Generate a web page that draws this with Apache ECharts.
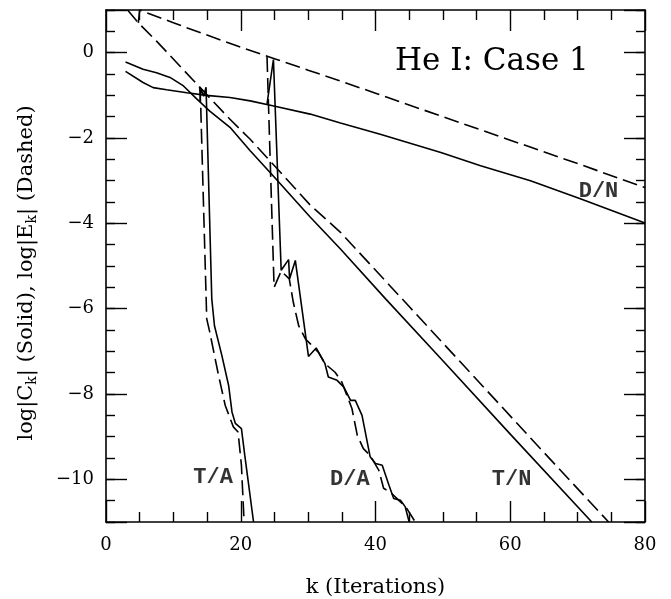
<!DOCTYPE html>
<html><head><meta charset="utf-8">
<script src="https://cdn.jsdelivr.net/npm/echarts@6/dist/echarts.min.js"></script>
<style>html,body{margin:0;padding:0;background:#fff}#c{width:671px;height:599px}</style>
</head><body><div id="c"></div>
<script>
// ---- data (k, log value) ----
const dnSolid = [[2.9,-0.44],[5.5,-0.70],[7,-0.82],[9,-0.87],[12,-0.94],[14.9,-1.00],[18.4,-1.05],[21.4,-1.13],[24.9,-1.25],[30.3,-1.44],[34.8,-1.65],[40.7,-1.91],[49.7,-2.34],[55.6,-2.65],[63,-3.00],[70.5,-3.43],[80,-3.99]];
const dnDashed = [[4.8,0.70],[5.0,1.0],[10,0.70],[15.9,0.36],[20,0.13],[25,-0.14],[30,-0.41],[34.7,-0.66],[40,-0.95],[49.6,-1.48],[60,-2.05],[70,-2.60],[80,-3.16]];
const tnSolid = [[2.9,-0.22],[5.5,-0.39],[7.5,-0.47],[9.5,-0.58],[11.5,-0.78],[13.5,-1.09],[15.4,-1.37],[18.4,-1.75],[21.4,-2.30],[25,-2.92],[30.3,-3.85],[34.8,-4.60],[41.5,-5.77],[50,-7.22],[60,-8.94],[72.1,-11.0]];
const tnDashed = [[3.2,1.0],[4.8,0.70],[7.5,0.27],[13.5,-0.74],[18.4,-1.56],[21.4,-2.03],[25,-2.65],[30.3,-3.57],[34.8,-4.21],[45,-5.95],[55,-7.66],[65,-9.37],[74.6,-11.0]];
const taSolid = [[13.95,-1.15],[14.1,-0.85],[14.5,-1.02],[14.85,-0.81],[15.7,-5.77],[16.1,-6.40],[17.2,-7.10],[18.2,-7.80],[18.7,-8.42],[19.2,-8.69],[20.1,-8.81],[20.6,-9.44],[21.9,-11.0]];
const taDashed = [[13.9,-0.80],[14.05,-1.21],[14.95,-6.24],[15.4,-6.55],[16.7,-7.56],[17.7,-8.27],[18.9,-8.77],[19.6,-8.89],[20.1,-9.67],[20.5,-11.0]];
const daSolid = [[23.9,-1.20],[24.85,-0.16],[26.0,-5.10],[27.1,-4.85],[27.25,-5.30],[28.1,-4.87],[30.05,-7.12],[31.2,-6.92],[32.5,-7.29],[33.0,-7.60],[34.3,-7.68],[35.3,-7.84],[36.3,-8.15],[37.0,-8.15],[38.0,-8.50],[39.2,-9.47],[40.0,-9.63],[41.0,-9.67],[42.0,-10.14],[42.7,-10.45],[43.7,-10.49],[44.4,-10.64],[45.0,-11.0]];
const daDashed = [[23.9,-0.10],[24.95,-5.50],[26.0,-5.12],[27.2,-5.30],[27.8,-5.85],[28.6,-6.40],[29.6,-6.71],[30.3,-6.82],[31.5,-7.02],[32.5,-7.29],[34.0,-7.49],[35.0,-7.72],[36.5,-8.34],[37.3,-8.97],[38.2,-9.28],[39.2,-9.44],[40.5,-9.79],[41.2,-10.21],[42.2,-10.30],[43.7,-10.53],[44.4,-10.62],[45.9,-11.0]];

const curveLabels = ['T/A','D/A','T/N','D/N'];
const labelK = [15.9, 36.2, 60.2, 73.1];
const labelV = [-9.95, -10.0, -10.0, -3.26];

const xTickValues = [0,20,40,60,80];
const xTickLabels = ['0','20','40','60','80'];
const yTickValues = [-10,-8,-6,-4,-2,0];
const yTickLabels = ['\u221210','\u22128','\u22126','\u22124','\u22122','0'];

const titleText = 'He I: Case 1';
const xName = 'k (Iterations)';
const yName = 'log|C{s|k}| (Solid), log|E{s|k}| (Dashed)';

// ---- chart ----
const serif = 'DejaVu Serif';
const black = '#000';
const lw = 1.6;
const dash = [15, 6];

function xAxisDef(pos, labels) {
  return {
    type: 'value', position: pos, min: 0, max: 80, interval: 20,
    axisLine: { show: true, onZero: false, lineStyle: { color: black, width: 1.6 } },
    axisTick: { show: true, inside: true, length: 21, lineStyle: { color: black, width: 1.4 } },
    minorTick: { show: true, splitNumber: 4, length: 10, lineStyle: { color: black, width: 1.4 } },
    splitLine: { show: false }, minorSplitLine: { show: false },
    axisLabel: labels ? {
      show: true, margin: 14, color: black, fontFamily: serif, fontSize: 18,
      formatter: v => { const i = xTickValues.indexOf(v); return i >= 0 ? xTickLabels[i] : ''; }
    } : { show: false },
    name: labels ? xName : '', nameLocation: 'middle', nameGap: 55,
    nameTextStyle: { color: black, fontFamily: serif, fontSize: 21 }
  };
}
function yMajor(pos, labels) {
  return {
    type: 'value', position: pos, min: -11, max: 1, splitNumber: 6,
    axisLine: { show: true, onZero: false, lineStyle: { color: black, width: 1.6 } },
    axisTick: { show: true, inside: true, length: 21, lineStyle: { color: black, width: 1.4 } },
    splitLine: { show: false },
    axisLabel: labels ? {
      show: true, margin: 12, color: black, fontFamily: serif, fontSize: 18,
      showMinLabel: true, showMaxLabel: true,
      formatter: v => { const i = yTickValues.indexOf(Math.round(v * 100) / 100); return i >= 0 ? yTickLabels[i] : ''; }
    } : { show: false },
    name: labels ? yName : '', nameLocation: 'middle', nameRotate: 90, nameGap: 67,
    nameTextStyle: { color: black, fontFamily: serif, fontSize: 21, padding: [0, 14, 0, 0],
      rich: { s: { fontFamily: serif, fontSize: 14, color: black, verticalAlign: 'bottom', padding: [10, 0, 0, 0] } } }
  };
}
function yMinor(pos) {
  return {
    type: 'value', position: pos, min: -11, max: 1, interval: 0.5,
    axisLine: { show: false, onZero: false },
    axisTick: { show: true, inside: true, length: 9, lineStyle: { color: black, width: 1.4 } },
    splitLine: { show: false }, axisLabel: { show: false }
  };
}
function lineSeries(data, dashed) {
  return {
    type: 'line', data: data, xAxisIndex: 0, yAxisIndex: 0, symbol: 'none', smooth: false,
    clip: true, silent: true, animation: false,
    lineStyle: { color: black, width: lw, type: dashed ? dash : 'solid' }
  };
}

const chart = echarts.init(document.getElementById('c'), null, { renderer: 'canvas' });
chart.setOption({
  animation: false,
  backgroundColor: '#fff',
  title: { text: titleText, left: 395, top: 46, padding: 0,
    textStyle: { color: black, fontFamily: serif, fontSize: 31, fontWeight: 'normal' } },
  grid: { left: 106, right: 26, top: 10, bottom: 77, containLabel: false, outerBoundsMode: 'none' },
  xAxis: [xAxisDef('bottom', true), xAxisDef('top', false)],
  yAxis: [yMajor('left', true), yMinor('left'), yMajor('right', false), yMinor('right')],
  series: [
    lineSeries(dnSolid, false), lineSeries(dnDashed, true),
    lineSeries(tnSolid, false), lineSeries(tnDashed, true),
    lineSeries(taSolid, false), lineSeries(taDashed, true),
    lineSeries(daSolid, false), lineSeries(daDashed, true),
    {
      type: 'scatter', xAxisIndex: 0, yAxisIndex: 0, symbolSize: 0, silent: true,
      data: labelK.map((k, i) => ({ value: [k, labelV[i]], name: curveLabels[i] })),
      label: { show: true, position: 'inside', formatter: '{b}', color: black,
        fontFamily: 'Liberation Mono', fontSize: 22, fontWeight: 'bold' }
    }
  ]
});
</script></body></html>
